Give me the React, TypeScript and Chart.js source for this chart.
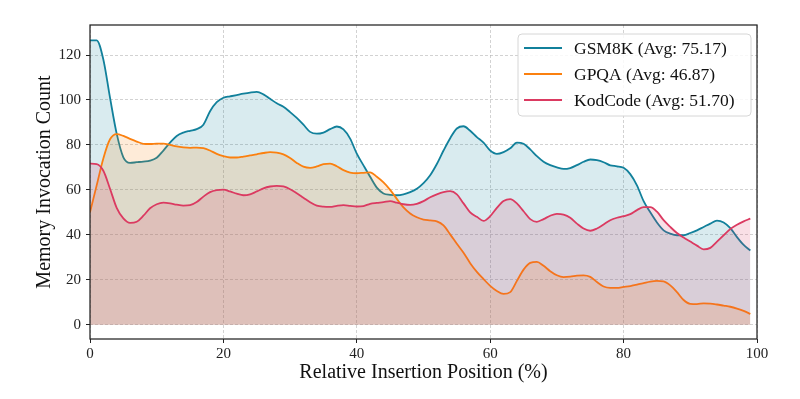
import React, { useEffect, useRef } from "react";
import { Chart, registerables } from "chart.js";

Chart.register(...registerables);

const positions = [
  0, 1, 2, 3, 4, 5, 6, 7, 8, 9, 10, 11, 12, 13, 14, 15, 16, 17, 18, 19,
  20, 21, 22, 23, 24, 25, 26, 27, 28, 29, 30, 31, 32, 33, 34, 35, 36, 37, 38, 39,
  40, 41, 42, 43, 44, 45, 46, 47, 48, 49, 50, 51, 52, 53, 54, 55, 56, 57, 58, 59,
  60, 61, 62, 63, 64, 65, 66, 67, 68, 69, 70, 71, 72, 73, 74, 75, 76, 77, 78, 79,
  80, 81, 82, 83, 84, 85, 86, 87, 88, 89, 90, 91, 92, 93, 94, 95, 96, 97, 98, 99,
];

const gsm8k = [
  126.5, 126.5, 118, 101, 85, 74.5, 72, 72.3, 72.6, 73, 74.3, 77.5, 81, 84, 85.5, 86.3, 87, 89, 95, 99,
  101, 101.6, 102.2, 102.8, 103.3, 103.6, 102.5, 100.5, 98.5, 97, 94.6, 92, 89, 85.8, 85, 85.5, 87, 88.2, 86.9, 82.8,
  76.1, 70.9, 65.8, 61, 58.4, 57.8, 57.6, 58, 59, 60.5, 63, 66.5, 71.5, 77.5, 83, 87.3, 88.3, 86.3, 83.5, 81,
  77.5, 76, 76.8, 78.5, 81, 80.5, 78, 75, 72.5, 71, 70, 69.3, 69.7, 71, 72.5, 73.5, 73.2, 72.3, 70.9, 70.5,
  69.8, 67, 62, 55, 50, 45.5, 42, 40.5, 39.8, 39.8, 40.8, 42, 43.5, 45, 46.3, 45.5, 43, 39, 35.5, 33,
];

const gpqa = [
  50, 62, 74, 82.5, 84.8, 84, 82.7, 81.5, 80.5, 80.4, 80.6, 80.6, 80, 79.3, 78.9, 78.7, 78.8, 78.6, 77.5, 76,
  75, 74.4, 74.4, 74.8, 75.3, 75.8, 76.4, 76.8, 76.6, 75.8, 74.2, 72, 70.3, 69.8, 70.4, 71.4, 71.7, 70.5, 68.8, 67.7,
  67.4, 67.6, 67.8, 65.8, 63.3, 60, 56, 52.2, 49.5, 47.8, 46.8, 46.4, 46, 44.2, 40.2, 36, 32, 27.4, 23.5, 20.3,
  17.3, 15, 13.7, 14.5, 19.5, 24.5, 27.5, 28, 26.2, 23.8, 22, 21.2, 21.4, 21.8, 22, 21.3, 19, 17, 16.4, 16.4,
  16.8, 17.2, 17.8, 18.5, 19.2, 19.5, 19.3, 17.5, 14.5, 11, 9.3, 9.2, 9.5, 9.4, 9.0, 8.5, 8, 7.2, 6.2, 4.8,
];

const kodcode = [
  71.7, 71.5, 68.5, 60.5, 52, 47.3, 45.3, 45.8, 48.5, 51.8, 53.6, 54.3, 54, 53.4, 53, 53.2, 54.6, 57, 59, 59.9,
  60.1, 59.3, 58.3, 57.6, 58, 59.3, 60.7, 61.5, 61.8, 61.5, 60.3, 58.5, 56.5, 54.5, 53, 52.5, 52.4, 52.9, 53.2, 52.9,
  52.6, 52.8, 53.8, 54.2, 54.5, 55, 54.3, 53.6, 53.3, 53.8, 55, 56.7, 58, 59, 59.4, 58, 54, 50, 48, 46.2,
  48.3, 52, 55, 55.9, 54, 50.5, 47, 45.8, 47, 48.5, 49.3, 49, 47.6, 45, 42.8, 41.8, 42.8, 44.6, 46.5, 47.6,
  48.3, 49.2, 51, 52.3, 52.3, 50.3, 46.5, 43.5, 40.8, 38.8, 37, 35.2, 33.5, 34.2, 37, 39.8, 42.6, 44.5, 46, 47.2,
];

const seriesLabels = ["GSM8K (Avg: 75.17)", "GPQA (Avg: 46.87)", "KodCode (Avg: 51.70)"];
const yTicks = [0, 20, 40, 60, 80, 100, 120];
const xTicks = [0, 20, 40, 60, 80, 100];

const FONT = '"Liberation Serif", "DejaVu Serif", serif';

const toPoints = (ys: number[]) => ys.map((y, i) => ({ x: positions[i], y }));

const framePlugin = {
  id: "frame",
  afterDatasetsDraw(chart: any) {
    const { ctx, chartArea } = chart;
    ctx.save();
    ctx.strokeStyle = "#222";
    ctx.lineWidth = 1.25;
    ctx.strokeRect(chartArea.left, chartArea.top, chartArea.right - chartArea.left, chartArea.bottom - chartArea.top);
    ctx.restore();
  },
};

const legendPlugin = {
  id: "boxLegend",
  afterDraw(chart: any) {
    const { ctx, chartArea } = chart;
    const x0 = chartArea.right - 239;
    const y0 = chartArea.top + 9;
    const w = 233;
    const h = 82;
    const r = 4;
    ctx.save();
    ctx.beginPath();
    ctx.moveTo(x0 + r, y0);
    ctx.lineTo(x0 + w - r, y0);
    ctx.quadraticCurveTo(x0 + w, y0, x0 + w, y0 + r);
    ctx.lineTo(x0 + w, y0 + h - r);
    ctx.quadraticCurveTo(x0 + w, y0 + h, x0 + w - r, y0 + h);
    ctx.lineTo(x0 + r, y0 + h);
    ctx.quadraticCurveTo(x0, y0 + h, x0, y0 + h - r);
    ctx.lineTo(x0, y0 + r);
    ctx.quadraticCurveTo(x0, y0, x0 + r, y0);
    ctx.closePath();
    ctx.fillStyle = "rgba(255,255,255,0.85)";
    ctx.fill();
    ctx.strokeStyle = "#d6d6d6";
    ctx.lineWidth = 1;
    ctx.stroke();
    chart.data.datasets.forEach((ds: any, i: number) => {
      const cy = y0 + 14 + i * 26;
      ctx.beginPath();
      ctx.strokeStyle = ds.borderColor;
      ctx.lineWidth = 1.8;
      ctx.moveTo(x0 + 6, cy);
      ctx.lineTo(x0 + 44, cy);
      ctx.stroke();
      ctx.fillStyle = "#111";
      ctx.font = `17.5px ${FONT}`;
      ctx.textBaseline = "middle";
      ctx.textAlign = "left";
      ctx.fillText(ds.label, x0 + 56, cy + 1);
    });
    ctx.restore();
  },
};

export default function App() {
  const ref = useRef<HTMLCanvasElement>(null);
  useEffect(() => {
    document.body.style.margin = "0";
    const gridCommon = {
      color: "rgba(175,175,175,0.7)",
      lineWidth: 0.8,
      tickColor: "#222",
      tickLength: 4,
      tickBorderDash: [],
      tickWidth: 1,
    };
    const borderCommon = { display: false, dash: [3, 2] };
    const chart = new Chart(ref.current as HTMLCanvasElement, {
      type: "line",
      data: {
        datasets: [
          {
            label: seriesLabels[0],
            data: toPoints(gsm8k),
            borderColor: "#11809b",
            backgroundColor: "rgba(17,128,155,0.16)",
            fill: "origin",
            order: 3,
          },
          {
            label: seriesLabels[1],
            data: toPoints(gpqa),
            borderColor: "#fb800f",
            backgroundColor: "rgba(251,128,15,0.16)",
            fill: "origin",
            order: 2,
          },
          {
            label: seriesLabels[2],
            data: toPoints(kodcode),
            borderColor: "#db3a61",
            backgroundColor: "rgba(219,58,97,0.16)",
            fill: "origin",
            order: 1,
          },
        ],
      },
      options: {
        responsive: false,
        animation: false,
        devicePixelRatio: 1,
        layout: { padding: { left: 0, top: 25, right: 43, bottom: 0 } },
        elements: {
          point: { radius: 0 },
          line: { borderWidth: 1.8, cubicInterpolationMode: "monotone" },
        },
        plugins: {
          legend: { display: false },
          tooltip: { enabled: false },
        },
        scales: {
          x: {
            type: "linear",
            min: 0,
            max: 100,
            afterBuildTicks: (s: any) => {
              s.ticks = xTicks.map((v) => ({ value: v }));
            },
            afterFit: (s: any) => {
              s.height = 60;
            },
            grid: gridCommon as any,
            border: borderCommon as any,
            ticks: { color: "#222", font: { family: FONT, size: 15 }, padding: 2, maxRotation: 0 },
            title: {
              display: true,
              text: "Relative Insertion Position (%)",
              color: "#111",
              font: { family: FONT, size: 20 },
              padding: { top: 0, bottom: 14 },
            },
          },
          y: {
            type: "linear",
            min: -6.35,
            max: 133.35,
            afterBuildTicks: (s: any) => {
              s.ticks = yTicks.map((v) => ({ value: v }));
            },
            afterFit: (s: any) => {
              s.width = 90;
            },
            grid: gridCommon as any,
            border: borderCommon as any,
            ticks: { color: "#222", font: { family: FONT, size: 15 }, padding: 5 },
            title: {
              display: true,
              text: "Memory Invocation Count",
              color: "#111",
              font: { family: FONT, size: 20 },
              padding: { top: 33, bottom: 0 },
            },
          },
        },
      } as any,
      plugins: [framePlugin, legendPlugin],
    });
    return () => chart.destroy();
  }, []);
  return (
    <div style={{ position: "absolute", left: 0, top: 0, width: 800, height: 399 }}>
      <canvas ref={ref} width={800} height={399} style={{ display: "block" }} />
    </div>
  );
}
